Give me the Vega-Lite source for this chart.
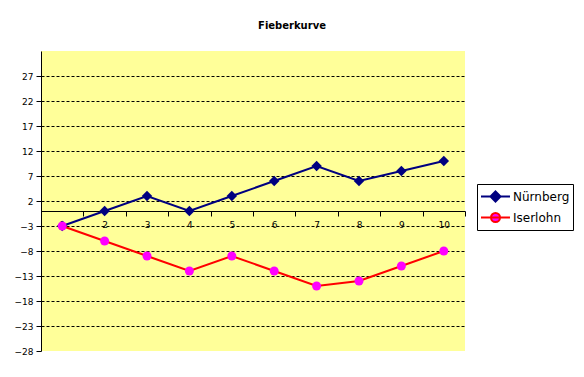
{
  "$schema": "https://vega.github.io/schema/vega-lite/v6.json",
  "width": 424,
  "height": 300,
  "autosize": "none",
  "padding": {"left": 41, "top": 51, "right": 119, "bottom": 26},
  "background": "white",
  "config": {"view": {"fill": "#FFFF99", "stroke": null}, "font": "DejaVu Sans"},
  "title": {"text": "Fieberkurve", "fontSize": 10, "fontWeight": "bold", "font": "DejaVu Sans", "color": "black", "offset": 20, "dx": 39, "anchor": "middle"},
  "data": {"values": [
    {"Tag": 1, "Stadt": "Nürnberg", "Wert": -3},
    {"Tag": 2, "Stadt": "Nürnberg", "Wert": 0},
    {"Tag": 3, "Stadt": "Nürnberg", "Wert": 3},
    {"Tag": 4, "Stadt": "Nürnberg", "Wert": 0},
    {"Tag": 5, "Stadt": "Nürnberg", "Wert": 3},
    {"Tag": 6, "Stadt": "Nürnberg", "Wert": 6},
    {"Tag": 7, "Stadt": "Nürnberg", "Wert": 9},
    {"Tag": 8, "Stadt": "Nürnberg", "Wert": 6},
    {"Tag": 9, "Stadt": "Nürnberg", "Wert": 8},
    {"Tag": 10, "Stadt": "Nürnberg", "Wert": 10},
    {"Tag": 1, "Stadt": "Iserlohn", "Wert": -3},
    {"Tag": 2, "Stadt": "Iserlohn", "Wert": -6},
    {"Tag": 3, "Stadt": "Iserlohn", "Wert": -9},
    {"Tag": 4, "Stadt": "Iserlohn", "Wert": -12},
    {"Tag": 5, "Stadt": "Iserlohn", "Wert": -9},
    {"Tag": 6, "Stadt": "Iserlohn", "Wert": -12},
    {"Tag": 7, "Stadt": "Iserlohn", "Wert": -15},
    {"Tag": 8, "Stadt": "Iserlohn", "Wert": -14},
    {"Tag": 9, "Stadt": "Iserlohn", "Wert": -11},
    {"Tag": 10, "Stadt": "Iserlohn", "Wert": -8}
  ]},
  "encoding": {
    "x": {"field": "Tag", "type": "ordinal",
      "scale": {"type": "band", "paddingInner": 0, "paddingOuter": 0},
      "axis": {"orient": "bottom", "offset": -140, "title": null, "labelAngle": 0, "grid": false,
        "domainColor": "black", "tickColor": "black", "tickSize": 5, "tickBand": "extent",
        "labelFontSize": 9, "labelColor": "black", "labelPadding": 4, "labelFont": "DejaVu Sans"}},
    "y": {"field": "Wert", "type": "quantitative",
      "scale": {"domain": [-28, 32], "nice": false, "zero": false},
      "axis": {"title": null, "values": [-28, -23, -18, -13, -8, -3, 2, 7, 12, 17, 22, 27],
        "grid": true, "gridDash": [3, 2],
        "gridColor": {"condition": {"test": "datum.value === -28", "value": "transparent"}, "value": "black"},
        "domainColor": "black", "tickColor": "black", "tickSize": 5,
        "labelFontSize": 9, "labelColor": "black", "labelPadding": 3, "labelFont": "DejaVu Sans"}}
  },
  "layer": [
    {
      "transform": [{"filter": {"field": "Stadt", "equal": "Nürnberg"}}],
      "mark": {"type": "line", "strokeWidth": 2},
      "encoding": {
        "stroke": {"field": "Stadt", "type": "nominal",
          "scale": {"domain": ["Nürnberg", "Iserlohn"], "range": ["#000080", "#FF0000"]},
          "legend": {"orient": "none", "legendX": 436, "legendY": 133, "title": null,
            "strokeColor": "black", "fillColor": "white", "padding": 3, "rowPadding": 2,
            "symbolSize": 289, "symbolStrokeWidth": 2, "labelFontSize": 12, "labelFont": "DejaVu Sans",
            "labelColor": "black", "labelOffset": 14,
            "encode": {"symbols": {"update": {
              "shape": {"signal": "datum.value === 'Nürnberg' ? 'M-1,0H2.41M0.706,-0.59L1.296,0L0.706,0.59L0.116,0Z' : 'M-1,0H2.41M0.176,0A0.53,0.53 0 1,0 1.236,0A0.53,0.53 0 1,0 0.176,0Z'"},
              "fill": {"signal": "datum.value === 'Nürnberg' ? '#000080' : '#FF00FF'"},
              "stroke": {"signal": "datum.value === 'Nürnberg' ? '#000080' : '#FF0000'"},
              "opacity": {"value": 1}
            }}}}}
      }
    },
    {
      "transform": [{"filter": {"field": "Stadt", "equal": "Nürnberg"}}],
      "mark": {"type": "point", "shape": "diamond", "filled": true, "fill": "#000080", "size": 110, "opacity": 1}
    },
    {
      "transform": [{"filter": {"field": "Stadt", "equal": "Iserlohn"}}],
      "mark": {"type": "line", "strokeWidth": 2, "stroke": "#FF0000"}
    },
    {
      "transform": [{"filter": {"field": "Stadt", "equal": "Iserlohn"}}],
      "mark": {"type": "point", "shape": "circle", "filled": true, "fill": "#FF00FF", "size": 81, "opacity": 1}
    }
  ]
}
